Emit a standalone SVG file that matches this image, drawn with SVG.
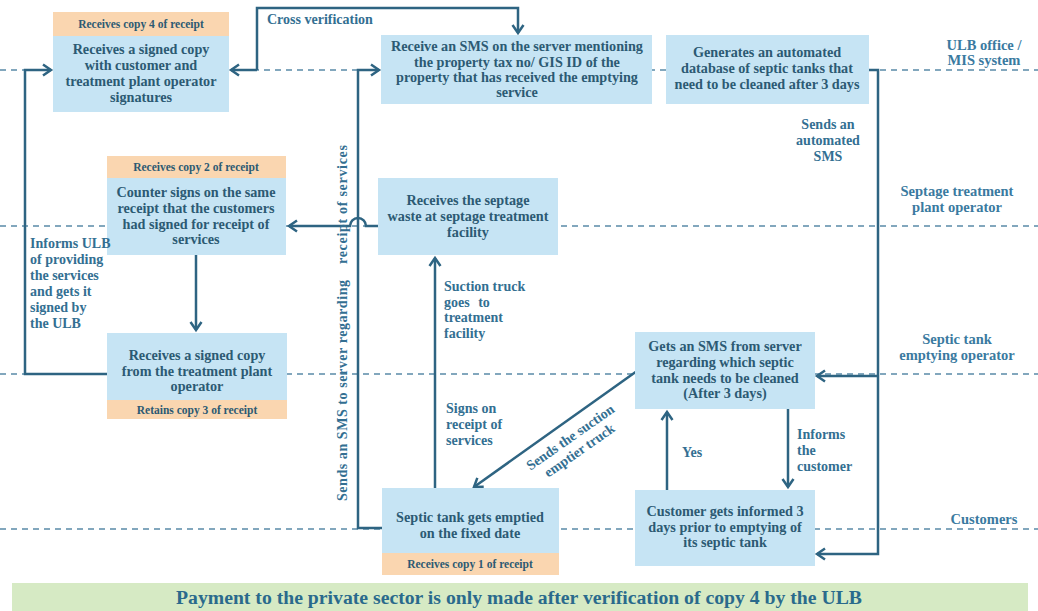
<svg xmlns="http://www.w3.org/2000/svg" width="1038" height="611" viewBox="0 0 1038 611">
  <style>
    .box { fill: #c6e4f4; }
    .hdr { fill: #fad6b0; }
    .bt { font-family: "Liberation Serif", "DejaVu Serif", serif; font-weight: bold; font-size: 14.2px; fill: #2c5a73; text-anchor: middle; }
    .ht { font-family: "Liberation Serif", "DejaVu Serif", serif; font-weight: bold; font-size: 11.5px; fill: #2c5a73; text-anchor: middle; }
    .lbl { font-family: "Liberation Serif", "DejaVu Serif", serif; font-weight: bold; font-size: 14px; fill: #336f92; }
    .lane { font-family: "Liberation Serif", "DejaVu Serif", serif; font-weight: bold; font-size: 14.5px; fill: #3a7aa0; text-anchor: middle; }
    .dash { stroke: #5a8aa8; stroke-width: 1.5; stroke-dasharray: 6 5; fill: none; }
    .con { stroke: #2e6482; stroke-width: 2.5; fill: none; }
  </style>
  <defs>
    <marker id="arr" markerUnits="userSpaceOnUse" markerWidth="14" markerHeight="14" refX="10" refY="7" orient="auto">
      <path d="M2,1.5 L10,7 L2,12.5" fill="none" stroke="#2e6482" stroke-width="2.5"/>
    </marker>
  </defs>

  <rect width="1038" height="611" fill="#ffffff"/>

  <!-- swim lane separators -->
  <g id="lanes">
    <line class="dash" x1="0" y1="70" x2="1038" y2="70"/>
    <line class="dash" x1="0" y1="226" x2="1038" y2="226"/>
    <line class="dash" x1="0" y1="374" x2="1038" y2="374"/>
    <line class="dash" x1="0" y1="529" x2="1038" y2="529"/>
    <text class="lane" x="984" y="50">ULB office /</text>
    <text class="lane" x="984" y="65">MIS system</text>
    <text class="lane" x="957" y="196">Septage treatment</text>
    <text class="lane" x="957" y="212">plant operator</text>
    <text class="lane" x="957" y="344">Septic tank</text>
    <text class="lane" x="957" y="360">emptying operator</text>
    <text class="lane" x="984" y="524">Customers</text>
  </g>

  <!-- connectors -->
  <g id="connectors">
    <!-- cross verification -->
    <path class="con" d="M257,70 V8 H518 V33" marker-end="url(#arr)"/>
    <path class="con" d="M257,70 H231" marker-end="url(#arr)"/>
    <!-- informs ULB loop -->
    <path class="con" d="M107,374 H25 V70 H51" marker-end="url(#arr)"/>
    <!-- SMS to server -->
    <path class="con" d="M382,528 H358 V70 H379" marker-end="url(#arr)"/>
    <!-- septage facility to counter sign, hopping the SMS line -->
    <path class="con" d="M378,226 H366 A8,8 0 0 0 350,226 H289" marker-end="url(#arr)"/>
    <!-- counter sign down to signed copy -->
    <path class="con" d="M196,255 V330" marker-end="url(#arr)"/>
    <!-- truck goes to treatment facility -->
    <path class="con" d="M435,488 V258" marker-end="url(#arr)"/>
    <!-- sends the suction emptier truck -->
    <path class="con" d="M637,371 L474,487" marker-end="url(#arr)"/>
    <!-- yes / informs the customer -->
    <path class="con" d="M667,490 V412" marker-end="url(#arr)"/>
    <path class="con" d="M788,409 V487" marker-end="url(#arr)"/>
    <!-- automated SMS -->
    <path class="con" d="M869,70 H878 V554 H817" marker-end="url(#arr)"/>
    <path class="con" d="M878,376 H817" marker-end="url(#arr)"/>
  </g>

  <!-- ULB: copy 4 -->
  <g id="ulb-copy4">
    <rect class="hdr" x="53" y="12" width="176" height="24"/>
    <rect class="box" x="53" y="36" width="176" height="76"/>
    <text class="ht" x="141" y="28">Receives copy 4 of receipt</text>
    <text class="bt" x="141" y="54">Receives a signed copy</text>
    <text class="bt" x="141" y="70">with customer and</text>
    <text class="bt" x="141" y="86">treatment plant operator</text>
    <text class="bt" x="141" y="102">signatures</text>
  </g>

  <!-- ULB: server SMS -->
  <g id="ulb-server">
    <rect class="box" x="381" y="35" width="271" height="69"/>
    <text class="bt" x="517" y="51">Receive an SMS on the server mentioning</text>
    <text class="bt" x="517" y="67">the property tax no/ GIS ID of the</text>
    <text class="bt" x="517" y="82">property that has received the emptying</text>
    <text class="bt" x="517" y="97">service</text>
  </g>

  <!-- ULB: automated database -->
  <g id="ulb-database">
    <rect class="box" x="666" y="35" width="203" height="69"/>
    <text class="bt" x="767" y="57">Generates an automated</text>
    <text class="bt" x="767" y="73">database of septic tanks that</text>
    <text class="bt" x="767" y="89">need to be cleaned after 3 days</text>
  </g>

  <!-- treatment plant: counter sign -->
  <g id="stp-countersign">
    <rect class="hdr" x="107" y="156" width="179" height="22"/>
    <rect class="box" x="107" y="178" width="179" height="77"/>
    <text class="ht" x="196" y="171">Receives copy 2 of receipt</text>
    <text class="bt" x="196" y="197">Counter signs on the same</text>
    <text class="bt" x="196" y="213">receipt that the customers</text>
    <text class="bt" x="196" y="229">had signed for receipt of</text>
    <text class="bt" x="196" y="244">services</text>
  </g>

  <!-- treatment plant: receives septage -->
  <g id="stp-receive">
    <rect class="box" x="378" y="178" width="180" height="77"/>
    <text class="bt" x="468" y="205">Receives the septage</text>
    <text class="bt" x="468" y="221">waste at septage treatment</text>
    <text class="bt" x="468" y="237">facility</text>
  </g>

  <!-- emptying operator: copy 3 -->
  <g id="op-copy3">
    <rect class="box" x="107" y="333" width="180" height="67"/>
    <rect class="hdr" x="107" y="400" width="180" height="19"/>
    <text class="bt" x="197" y="360">Receives a signed copy</text>
    <text class="bt" x="197" y="376">from the treatment plant</text>
    <text class="bt" x="197" y="391">operator</text>
    <text class="ht" x="197" y="414">Retains copy 3 of receipt</text>
  </g>

  <!-- emptying operator: SMS from server -->
  <g id="op-sms">
    <rect class="box" x="635" y="332" width="180" height="77"/>
    <text class="bt" x="725" y="351">Gets an SMS from server</text>
    <text class="bt" x="725" y="367">regarding which septic</text>
    <text class="bt" x="725" y="383">tank needs to be cleaned</text>
    <text class="bt" x="725" y="398">(After 3 days)</text>
  </g>

  <!-- customer: tank emptied -->
  <g id="cust-emptied">
    <rect class="box" x="382" y="488" width="177" height="65"/>
    <rect class="hdr" x="382" y="553" width="177" height="22"/>
    <text class="bt" x="470" y="522">Septic tank gets emptied</text>
    <text class="bt" x="470" y="538">on the fixed date</text>
    <text class="ht" x="470" y="568">Receives copy 1 of receipt</text>
  </g>

  <!-- customer: informed -->
  <g id="cust-informed">
    <rect class="box" x="635" y="490" width="180" height="76"/>
    <text class="bt" x="725" y="516">Customer gets informed 3</text>
    <text class="bt" x="725" y="532">days prior to emptying of</text>
    <text class="bt" x="725" y="547">its septic tank</text>
  </g>

  <!-- connector labels, drawn above the boxes -->
  <g id="connector-labels">
    <text class="lbl" x="267" y="24">Cross verification</text>

    <text class="lbl" x="30" y="248">Informs ULB</text>
    <text class="lbl" x="30" y="264">of providing</text>
    <text class="lbl" x="30" y="280">the services</text>
    <text class="lbl" x="30" y="296">and gets it</text>
    <text class="lbl" x="30" y="312">signed by</text>
    <text class="lbl" x="30" y="328">the ULB</text>

    <text class="lbl" transform="translate(347,501) rotate(-90)" textLength="221" lengthAdjust="spacing">Sends an SMS to server regarding</text>
    <text class="lbl" transform="translate(347,264) rotate(-90)" textLength="119" lengthAdjust="spacing">receipt of services</text>

    <text class="lbl" x="444" y="291">Suction truck</text>
    <text class="lbl" x="444" y="307" word-spacing="5">goes to</text>
    <text class="lbl" x="444" y="322">treatment</text>
    <text class="lbl" x="444" y="338">facility</text>
    <text class="lbl" x="446" y="413">Signs on</text>
    <text class="lbl" x="446" y="429">receipt of</text>
    <text class="lbl" x="446" y="445">services</text>

    <g transform="translate(573,441) rotate(-35)">
      <text class="lbl" x="0" y="0" text-anchor="middle">Sends the suction</text>
      <text class="lbl" x="0" y="16" text-anchor="middle">emptier truck</text>
    </g>

    <text class="lbl" x="682" y="457">Yes</text>
    <text class="lbl" x="797" y="439">Informs</text>
    <text class="lbl" x="797" y="455">the</text>
    <text class="lbl" x="797" y="471">customer</text>

    <text class="lbl" x="828" y="129" text-anchor="middle">Sends an</text>
    <text class="lbl" x="828" y="145" text-anchor="middle">automated</text>
    <text class="lbl" x="828" y="161" text-anchor="middle">SMS</text>
  </g>

  <!-- payment note -->
  <g id="payment-note">
    <rect x="12" y="583" width="1016" height="28" fill="#d6eac4"/>
    <text x="519" y="604" text-anchor="middle" font-family="Liberation Serif, DejaVu Serif, serif" font-weight="bold" font-size="18" fill="#2a6a8c" textLength="686" lengthAdjust="spacingAndGlyphs">Payment to the private sector is only made after verification of copy 4 by the ULB</text>
  </g>
</svg>
